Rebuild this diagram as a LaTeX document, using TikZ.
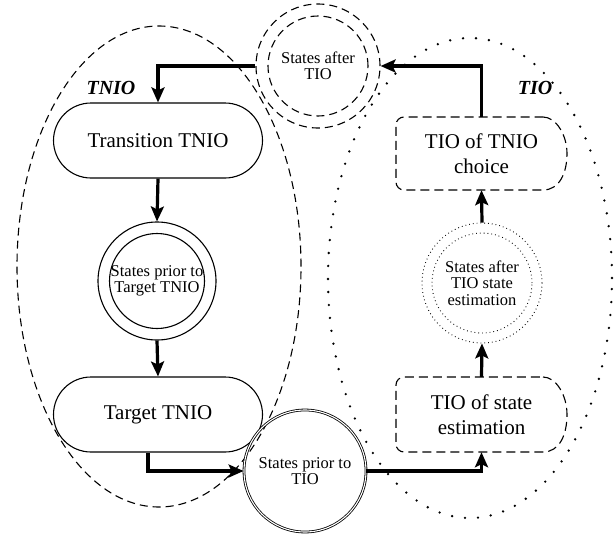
\documentclass[tikz,border=0pt]{standalone}
\usepackage{fontspec}
\setmainfont{Liberation Serif}
\usetikzlibrary{arrows.meta,shapes.misc}
\begin{document}
\begin{tikzpicture}[x=1pt,y=-1pt,
  flow/.style={line width=3.2pt,-{Stealth[length=15pt,width=13pt,inset=3pt]}},
  stadium/.style={rounded rectangle,draw,line width=1.1pt,minimum width=209pt,minimum height=75pt,inner sep=0pt,font=\fontsize{21}{25}\selectfont},
  boxtext/.style={draw=none,inner sep=0pt,minimum width=171pt,align=center,font=\fontsize{21}{25}\selectfont},
  boxdash/.style={line width=1.1pt,dash pattern=on 9pt off 5pt},
  stcirc/.style={circle,inner sep=0pt,align=center,font=\fontsize{16.5}{16.5}\selectfont},
  bigdash/.style={line width=1.1pt,dash pattern=on 8pt off 5pt},
  finedot/.style={line width=0.9pt,dash pattern=on 0.8pt off 3pt},
  bigdot/.style={line width=2.6pt,line cap=round,dash pattern=on 0pt off 13pt},
  lab/.style={inner sep=0pt,font=\fontsize{20}{24}\selectfont\bfseries\itshape}
]
\useasboundingbox (0,0) rectangle (616,533);
% group outlines
\draw[bigdash] (159,266.5) ellipse [x radius=142pt,y radius=240.5pt];
\draw[bigdot] (470,278) ellipse [x radius=142pt,y radius=240pt];
\node[lab] (tnio) at (111,88) {TNIO};
\node[lab] (tio) at (535,88) {TIO};
% left column
\node[stadium] (trans) at (158,140.5) {Transition TNIO};
\node[stcirc,draw,line width=1.1pt,minimum size=118pt] (priorT) at (157,281) {States prior to\\Target TNIO};
\draw[line width=1.1pt] (priorT.center) circle[radius=47.5pt];
\node[stadium] (target) at (158,414.5) {Target TNIO};
% top circle
\node[stcirc,draw,bigdash,minimum size=124pt] (after) at (318,66) {States after\\TIO};
\draw[bigdash] (after.center) circle[radius=50pt];
% bottom circle
\node[stcirc,draw,double,line width=0.8pt,double distance=1.1pt,minimum size=122pt] (priorTIO) at (305,471) {States prior to\\TIO};
% right column
\node[boxtext,minimum height=73pt] (choice) at (481.5,153.5) {TIO of TNIO\\choice};
\draw[boxdash] (535,117) .. controls (556,117) and (567,135) .. (567,153.5) .. controls (567,172) and (560,190) .. (543,190) [rounded corners=8pt] -- (396,190) -- (396,117) -- cycle;
\node[stcirc,draw,finedot,minimum size=120pt] (afterEst) at (482,283) {States after\\TIO state\\estimation};
\draw[finedot] (afterEst.center) circle[radius=50pt];
\node[boxtext,minimum height=75pt] (est) at (481.5,414.5) {TIO of state\\estimation};
\draw[boxdash] (535,377) .. controls (556,377) and (567,395) .. (567,414.5) .. controls (567,434) and (560,452) .. (543,452) [rounded corners=8pt] -- (396,452) -- (396,377) -- cycle;
% connectors
\draw[flow] (after.west) -| (trans.north);
\draw[flow] (trans.south) -- (priorT.north);
\draw[flow] (priorT.south) -- (target.north);
\draw[flow] ([xshift=-10pt]target.south) |- (priorTIO.west);
\draw[flow] (priorTIO.east) -| (est.south);
\draw[flow] (est.north) -- (afterEst.south);
\draw[flow] (afterEst.north) -- (choice.south);
\draw[flow] (choice.north) |- (after.east);
\end{tikzpicture}
\end{document}
